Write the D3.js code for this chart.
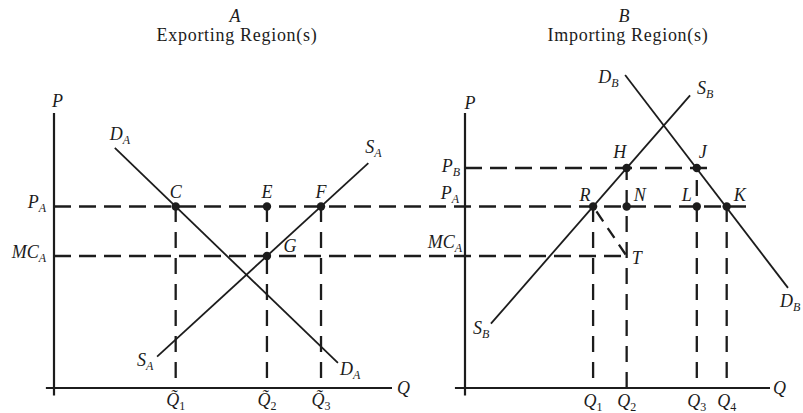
<!DOCTYPE html>
<html>
<head>
<meta charset="utf-8">
<script src="https://cdn.jsdelivr.net/npm/d3@7"></script>
<style>
  body { margin: 0; background: #fff; }
  svg text { font-family: "Liberation Serif", "DejaVu Serif", serif; fill: #1c1c1c; }
</style>
</head>
<body>
<div id="chart"></div>
<script>
// price levels (shared vertical scale for both panels)
let priceNames = ["P", "MC", "P"];
let priceSubs = ["A", "A", "B"];
let priceValues = [6.6, 4.8, 8.0];   // P_A, MC_A, P_B

// quantities on the two horizontal axes
let qtyA = [3.6, 6.3, 7.9];          // Q~1, Q~2, Q~3
let qtyB = [4.2, 5.3, 7.6, 8.58];    // Q1, Q2, Q3, Q4

// curve end points [q, p]
let demandA = [[1.8, 8.73], [8.4, 0.91]];
let supplyA = [[3.05, 1.14], [9.3, 8.18]];
let supplyB = [[0.85, 2.34], [7.38, 10.64]];
let demandB = [[5.25, 11.38], [10.59, 3.64]];

// marked points [name, q, p]
let pointsA = [
    ["C", qtyA[0], priceValues[0]],
    ["E", qtyA[1], priceValues[0]],
    ["F", qtyA[2], priceValues[0]],
    ["G", qtyA[1], priceValues[1]]
];
let pointsB = [
    ["H", qtyB[1], priceValues[2]],
    ["J", qtyB[2], priceValues[2]],
    ["R", qtyB[0], priceValues[0]],
    ["N", qtyB[1], priceValues[0]],
    ["L", qtyB[2], priceValues[0]],
    ["K", qtyB[3], priceValues[0]]
];
let pointT = ["T", qtyB[1], priceValues[1]];


let width = 803, height = 413;
let ink = "#1c1c1c";

let svg = d3.select("#chart")
    .append("svg")
    .attr("width", width)
    .attr("height", height)
    .attr("viewBox", [0, 0, width, height]);

let y = d3.scaleLinear().domain([0, 10]).range([388, 113]);
let xA = d3.scaleLinear().domain([0, 10]).range([54, 392]);
let xB = d3.scaleLinear().domain([0, 10]).range([465, 770]);

let bottomGap = 0.36;  // vertical dashes stop just above the axis

function seg(x1, y1, x2, y2, w, dash) {
    let l = svg.append("line")
        .attr("x1", x1).attr("y1", y1)
        .attr("x2", x2).attr("y2", y2)
        .attr("stroke", ink)
        .attr("stroke-width", w);
    if (dash) l.attr("stroke-dasharray", dash);
    return l;
}

function label(x, yy, main, sub, anchor, size, subItalic) {
    let t = svg.append("text")
        .attr("x", x).attr("y", yy)
        .attr("text-anchor", anchor || "middle")
        .attr("font-style", "italic")
        .attr("font-size", size || 18);
    t.append("tspan").text(main);
    if (sub) {
        t.append("tspan")
            .attr("font-size", 12)
            .attr("dy", 4)
            .attr("font-style", subItalic === false ? "normal" : "italic")
            .text(sub);
    }
    return t;
}

// titles
label(235, 22, "A");
svg.append("text").attr("x", 237).attr("y", 41).attr("text-anchor", "middle")
    .attr("font-size", 18).attr("letter-spacing", 0.7).text("Exporting Region(s)");
label(624, 22, "B");
svg.append("text").attr("x", 628).attr("y", 41).attr("text-anchor", "middle")
    .attr("font-size", 18).attr("letter-spacing", 0.7).text("Importing Region(s)");

// horizontal dashed price lines
let hDash = "17,8", vDash = "16,10";
seg(xA(0), y(priceValues[0]), xB(9.4), y(priceValues[0]), 2.3, hDash);   // P_A across both panels
seg(xA(0), y(priceValues[1]), xB(qtyB[1]), y(priceValues[1]), 2.3, hDash); // MC_A to T
seg(xB(0), y(priceValues[2]), xB(7.95), y(priceValues[2]), 2.3, hDash);    // P_B

// vertical dashed quantity lines (drawn upward so the bottom dash is whole)
qtyA.forEach(q => seg(xA(q), y(bottomGap), xA(q), y(priceValues[0]), 2.3, vDash));
seg(xB(qtyB[0]), y(bottomGap), xB(qtyB[0]), y(priceValues[0]), 2.3, vDash);
seg(xB(qtyB[1]), y(0), xB(qtyB[1]), y(priceValues[2]), 2.3, vDash);
seg(xB(qtyB[2]), y(bottomGap), xB(qtyB[2]), y(priceValues[2]), 2.3, vDash);
seg(xB(qtyB[3]), y(bottomGap), xB(qtyB[3]), y(priceValues[0]), 2.3, vDash);

// R -> T dashed
seg(xB(qtyB[0]), y(priceValues[0]), xB(pointT[1]), y(pointT[2]), 2.3, "12,8")
    .attr("stroke-dashoffset", -6);

// axes
seg(xA(0), y(10), xA(0), y(-0.27), 2.2);
seg(xA(-0.24), y(0), xA(10), y(0), 2.2);
seg(xB(0), y(10), xB(0), y(-0.27), 2.2);
seg(xB(-0.33), y(0), xB(10), y(0), 2.2);

// supply and demand curves
let lineA = d3.line().x(d => xA(d[0])).y(d => y(d[1]));
let lineB = d3.line().x(d => xB(d[0])).y(d => y(d[1]));
[demandA, supplyA].forEach(c => svg.append("path").attr("d", lineA(c))
    .attr("fill", "none").attr("stroke", ink).attr("stroke-width", 1.8));
[demandB, supplyB].forEach(c => svg.append("path").attr("d", lineB(c))
    .attr("fill", "none").attr("stroke", ink).attr("stroke-width", 1.8));

// dots
svg.append("g").selectAll("circle")
    .data(pointsA)
    .join("circle")
    .attr("cx", d => xA(d[1]))
    .attr("cy", d => y(d[2]))
    .attr("r", 4.2)
    .attr("fill", ink);
svg.append("g").selectAll("circle")
    .data(pointsB)
    .join("circle")
    .attr("cx", d => xB(d[1]))
    .attr("cy", d => y(d[2]))
    .attr("r", 4.2)
    .attr("fill", ink);

// point labels (offsets from the dots)
let offA = { C: [0, -9], E: [0, -9], F: [0, -9], G: [23, -4] };
let offB = { H: [-7, -10], J: [6, -10], R: [-8, -6], N: [13, -6], L: [-10, -6], K: [13, -6], T: [10, 8] };
pointsA.forEach(p => label(xA(p[1]) + offA[p[0]][0], y(p[2]) + offA[p[0]][1], p[0]));
pointsB.concat([pointT]).forEach(p => label(xB(p[1]) + offB[p[0]][0], y(p[2]) + offB[p[0]][1], p[0]));

// curve end labels
function endLabel(px, py, dx, dy, main, sub) { label(px + dx, py + dy, main, sub, "start"); }
endLabel(xA(demandA[0][0]), y(demandA[0][1]), -5, -8, "D", "A");
endLabel(xA(demandA[1][0]), y(demandA[1][1]), 2, 12, "D", "A");
endLabel(xA(supplyA[0][0]), y(supplyA[0][1]), -20, 9, "S", "A");
endLabel(xA(supplyA[1][0]), y(supplyA[1][1]), -3, -10, "S", "A");
endLabel(xB(demandB[0][0]), y(demandB[0][1]), -27, 8, "D", "B");
endLabel(xB(demandB[1][0]), y(demandB[1][1]), -8, 19, "D", "B");
endLabel(xB(supplyB[0][0]), y(supplyB[0][1]), -18, 10, "S", "B");
endLabel(xB(supplyB[1][0]), y(supplyB[1][1]), 7, -1, "S", "B");

// price axis labels
label(xA(0) - 8, y(priceValues[0]) + 1, priceNames[0], priceSubs[0], "end");
label(xA(0) - 8, y(priceValues[1]) + 2, priceNames[1], priceSubs[1], "end");
label(xB(0) - 5, y(priceValues[2]) + 4, priceNames[2], priceSubs[2], "end");
label(xB(0) - 6, y(priceValues[0]) - 8, priceNames[0], priceSubs[0], "end");
label(xB(0) - 3, y(priceValues[1]) - 8, priceNames[1], priceSubs[1], "end");

// axis titles
label(xA(0) + 3.5, 107, "P");
label(xB(0) + 5, 109, "P");
label(xA(10) + 5, y(0) + 6, "Q", null, "start");
label(xB(10) + 3, y(0) + 6, "Q", null, "start");

// quantity labels
qtyA.forEach((q, i) => label(xA(q), 406, "Q\u0303", String(i + 1), "middle", 18, false));
qtyB.forEach((q, i) => label(xB(q), 407, "Q", String(i + 1), "middle", 18, false));
</script>
</body>
</html>
